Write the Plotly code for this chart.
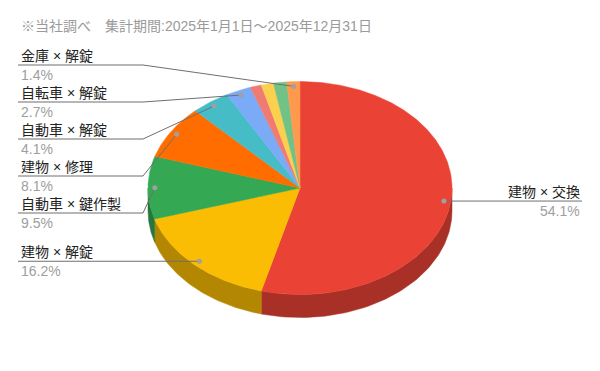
import numpy as np
import plotly.graph_objects as go

# ---- data ----
categories = ["建物 × 交換", "建物 × 解錠", "自動車 × 鍵作製", "建物 × 修理", "自動車 × 解錠",
              "自転車 × 解錠", "その他1", "その他2", "その他3", "金庫 × 解錠"]
shares = [54.1, 16.2, 9.5, 8.1, 4.1, 2.7, 1.2, 1.3, 1.4, 1.4]
colors = ["#EA4335", "#FBBC04", "#34A853", "#FF6D01", "#46BDC6",
          "#7BAAF7", "#F07B72", "#FCD04F", "#71C287", "#FF994D"]
title_text = "※当社調べ　集計期間:2025年1月1日～2025年12月31日"

# ---- layout constants ----
W, H = 600, 371
cx, cy, rx, ry, depth = 300, 188, 152, 106.5, 23
dot_r = 0.955
# which slices are labelled, on which side, and the y of the leader line (None = at the dot)
label_side = {0: "right", 1: "left", 2: "left", 3: "left", 4: "left", 5: "left", 9: "left"}
label_line_y = {0: None, 1: None, 2: 213, 3: 176, 4: 139, 5: 102, 9: 65}
left_x, bend_x, right_x = 18, 143, 582
FONT = "'Liberation Sans', 'Noto Sans CJK JP', sans-serif"


def darker(hexc, f=0.72):
    h = hexc.lstrip("#")
    r, g, b = (int(h[i:i + 2], 16) for i in (0, 2, 4))
    return f"rgb({int(r*f)},{int(g*f)},{int(b*f)})"


def ell(theta_deg, r=1.0, dy=0.0):
    t = np.radians(theta_deg)
    return cx + rx * r * np.sin(t), cy - ry * r * np.cos(t) + dy


total = sum(shares)
bounds = np.concatenate([[0], np.cumsum(shares)]) / total * 360.0

fig = go.Figure()

# side walls (front half only)
for i, c in enumerate(colors):
    a, b = bounds[i], bounds[i + 1]
    s, e = max(a, 90), min(b, 270)
    if e <= s:
        continue
    th = np.linspace(s, e, 80)
    xt, yt = ell(th)
    xb, yb = ell(th[::-1], dy=depth)
    fig.add_trace(go.Scatter(x=np.concatenate([xt, xb, xt[:1]]), y=np.concatenate([yt, yb, yt[:1]]),
                             mode="lines", fill="toself", fillcolor=darker(c),
                             line=dict(color=darker(c), width=0.5), hoverinfo="skip", showlegend=False))

# top faces
for i, c in enumerate(colors):
    a, b = bounds[i], bounds[i + 1]
    th = np.linspace(a, b, max(int((b - a) * 2), 6))
    xs, ys = ell(th)
    fig.add_trace(go.Scatter(x=np.concatenate([[cx], xs, [cx]]), y=np.concatenate([[cy], ys, [cy]]),
                             mode="lines", fill="toself", fillcolor=c,
                             line=dict(color=c, width=0.5), name=categories[i],
                             hoverinfo="name", showlegend=False))

# leader lines, dots and labels
annotations = []
for i, side in label_side.items():
    mid = (bounds[i] + bounds[i + 1]) / 2
    dx, dy_ = ell(mid, r=dot_r)
    ly = label_line_y[i] if label_line_y[i] is not None else dy_
    if side == "left":
        lx = [left_x, bend_x, dx]
        lyy = [ly, ly, dy_]
        tx, anchor = left_x + 1, "left"
    else:
        lx = [dx, right_x]
        lyy = [dy_, ly]
        tx, anchor = right_x, "right"
    fig.add_trace(go.Scatter(x=lx, y=lyy, mode="lines", line=dict(color="#6f6f6f", width=1),
                             hoverinfo="skip", showlegend=False))
    fig.add_trace(go.Scatter(x=[dx], y=[dy_], mode="markers",
                             marker=dict(size=5, color="#a0a0a0"), hoverinfo="skip", showlegend=False))
    annotations.append(dict(x=tx, y=ly - 9.5, xref="x", yref="y", text=categories[i], showarrow=False,
                            xanchor=anchor, yanchor="middle", font=dict(family=FONT, size=14, color="#222222")))
    annotations.append(dict(x=tx, y=ly + 9.5, xref="x", yref="y", text=f"{shares[i]:.1f}%", showarrow=False,
                            xanchor=anchor, yanchor="middle", font=dict(family=FONT, size=14, color="#9e9e9e")))

annotations.append(dict(x=19, y=25.5, xref="x", yref="y", text=title_text, showarrow=False,
                        xanchor="left", yanchor="middle", font=dict(family=FONT, size=14, color="#9a9a9a")))

fig.update_layout(
    width=W, height=H, autosize=False,
    margin=dict(l=0, r=0, t=0, b=0, pad=0),
    paper_bgcolor="white", plot_bgcolor="white",
    xaxis=dict(range=[0, W], visible=False, fixedrange=True),
    yaxis=dict(range=[H, 0], visible=False, fixedrange=True),
    annotations=annotations,
    showlegend=False,
)

fig.write_html("out.html")
